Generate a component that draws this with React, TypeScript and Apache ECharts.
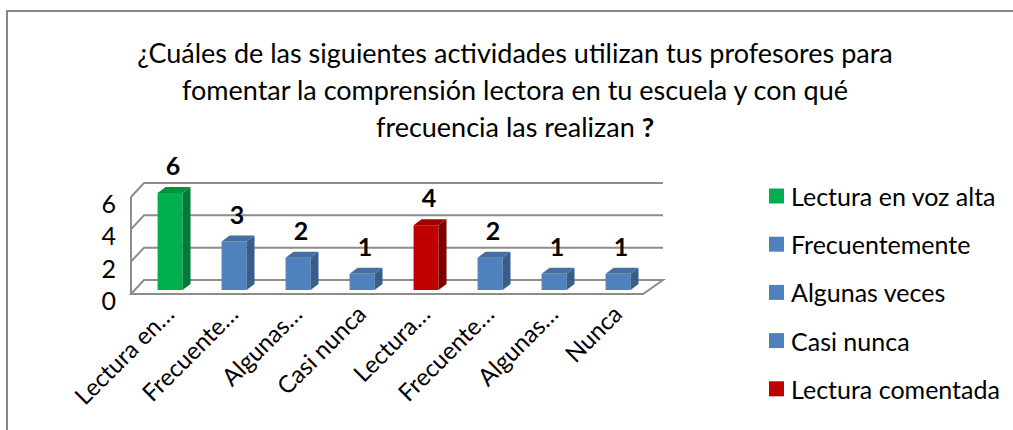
import React, { useEffect, useRef } from "react";
import * as echarts from "echarts";

const categories = [
  "Lectura en voz alta",
  "Frecuentemente",
  "Algunas veces",
  "Casi nunca",
  "Lectura comentada",
  "Frecuentemente",
  "Algunas veces",
  "Nunca",
];
const tickLabels = [
  "Lectura en…",
  "Frecuente…",
  "Algunas…",
  "Casi nunca",
  "Lectura…",
  "Frecuente…",
  "Algunas…",
  "Nunca",
];
const values = [6, 3, 2, 1, 4, 2, 1, 1];
const barGroups = [0, 1, 1, 1, 4, 1, 1, 1];
const legendNames = [
  "Lectura en voz alta",
  "Frecuentemente",
  "Algunas veces",
  "Casi nunca",
  "Lectura comentada",
];
const frontColors = ["#00B050", "#4F81BD", "#4F81BD", "#4F81BD", "#C00000"];
const sideColors = ["#007A37", "#385D8A", "#385D8A", "#385D8A", "#7F0000"];
const topColors = ["#00913F", "#44709F", "#44709F", "#44709F", "#A00000"];
const yTicks = [0, 2, 4, 6];
const titleLines = [
  "¿Cuáles de las siguientes actividades utilizan tus profesores para",
  "fomentar la comprensión lectora en tu escuela y con qué",
  "frecuencia las realizan",
];

const FONT = "Lato, 'Open Sans', sans-serif";
const GRID_COLOR = "#8C8C8C";

export default function App() {
  const ref = useRef<HTMLDivElement>(null);
  useEffect(() => {
    if (!ref.current) return;
    const chart = echarts.init(ref.current, undefined, { renderer: "svg" });

    const wallRender = (params: any, api: any) => {
      const n = categories.length;
      const cw = api.size([1, 0])[0];
      const xL = api.coord([0, 0])[0] - cw / 2;
      const xR = api.coord([n - 1, 0])[0] + cw / 2;
      const dxL = 13;
      const dxR = 20;
      const dy = -14;
      const children: any[] = [];
      const style = { stroke: GRID_COLOR, lineWidth: 2, fill: "none" };
      yTicks.forEach((t) => {
        const y = api.coord([0, t])[1];
        if (t === 0) {
          children.push({
            type: "polygon",
            shape: { points: [[xL, y], [xR, y], [xR + dxR, y + dy], [xL + dxL, y + dy]] },
            style: { stroke: GRID_COLOR, lineWidth: 2, fill: "#ffffff" },
          });
        } else {
          children.push({
            type: "polyline",
            shape: { points: [[xL, y], [xL + dxL, y + dy], [xR + dxR, y + dy]] },
            style,
          });
        }
      });
      const y0 = api.coord([0, 0])[1];
      const yTop = api.coord([0, yTicks[yTicks.length - 1]])[1];
      children.push({
        type: "line",
        shape: { x1: xL, y1: y0, x2: xL, y2: yTop },
        style,
      });
      return { type: "group", children };
    };

    const barRender = (params: any, api: any) => {
      const i = api.value(0);
      const v = api.value(1);
      const g = api.value(2);
      const base = api.coord([i, 0]);
      const top = api.coord([i, v]);
      const cw = api.size([1, 0])[0];
      const fw = cw * 0.39;
      const cx = base[0] + cw * 0.11;
      const x0 = cx - fw / 2;
      const x1 = cx + fw / 2;
      const oy = -4;
      const yb = base[1] + oy;
      const yt = top[1] + oy;
      const dx = 8;
      const dy = -6;
      return {
        type: "group",
        children: [
          {
            type: "rect",
            shape: { x: x0, y: yt, width: x1 - x0, height: yb - yt },
            style: { fill: frontColors[g] },
          },
          {
            type: "polygon",
            shape: { points: [[x1, yb], [x1, yt], [x1 + dx, yt + dy], [x1 + dx, yb + dy]] },
            style: { fill: sideColors[g] },
          },
          {
            type: "polygon",
            shape: { points: [[x0, yt], [x1, yt], [x1 + dx, yt + dy], [x0 + dx, yt + dy]] },
            style: { fill: topColors[g] },
          },
          {
            type: "text",
            style: {
              text: String(v),
              x: cx + 3,
              y: yt + dy - 22,
              fill: "#000",
              font: `bold 25px ${FONT}`,
              align: "center",
              verticalAlign: "middle",
            },
          },
        ],
      };
    };

    const option: any = {
      animation: false,
      backgroundColor: "#ffffff",
      graphic: [
        {
          type: "rect",
          silent: true,
          shape: { x: 7, y: 11, width: 1200, height: 600 },
          style: { fill: "none", stroke: "#878787", lineWidth: 2 },
        },
        {
          type: "text",
          x: 515,
          y: 34,
          style: {
            text: titleLines.join("\n") + " {b|?}",
            fill: "#000",
            fontFamily: FONT,
            fontSize: 27,
            lineHeight: 37,
            align: "center",
            verticalAlign: "top",
            rich: { b: { fontWeight: "bold", fontSize: 27, lineHeight: 37, fontFamily: FONT, fill: "#000" } },
          },
        },
      ],
      legend: {
        data: legendNames,
        orient: "vertical",
        left: 764,
        top: 177,
        icon: "rect",
        itemWidth: 15,
        itemHeight: 15,
        itemGap: 20.2,
        selectedMode: false,
        textStyle: { fontFamily: FONT, fontSize: 25, color: "#000", lineHeight: 28, padding: [0, 0, 0, 2] },
      },
      grid: [
        { left: 131, top: 197, width: 512, height: 97 },
        { left: 137, top: 197, width: 512, height: 97 },
      ],
      xAxis: [
        {
          type: "category",
          gridIndex: 0,
          data: categories,
          axisLine: { show: false },
          axisTick: { show: false },
          axisLabel: { show: false },
          splitLine: { show: false },
        },
        {
          type: "category",
          gridIndex: 1,
          data: tickLabels,
          axisLine: { show: false },
          axisTick: { show: false },
          splitLine: { show: false },
          axisLabel: {
            interval: 0,
            rotate: 45,
            margin: 15,
            color: "#000",
            fontFamily: FONT,
            fontSize: 24,
          },
        },
      ],
      yAxis: [
        {
          type: "value",
          gridIndex: 0,
          min: 0,
          max: 6,
          interval: 2,
          axisLine: { show: false },
          axisTick: { show: false },
          splitLine: { show: false },
          axisLabel: {
            margin: 15,
            color: "#000",
            fontFamily: FONT,
            fontSize: 25,
            verticalAlign: "top",
            lineHeight: 12,
          },
        },
        { type: "value", gridIndex: 1, min: 0, max: 6, show: false },
      ],
      series: [
        {
          type: "custom",
          name: "walls",
          xAxisIndex: 0,
          yAxisIndex: 0,
          data: [[0, 0]],
          renderItem: wallRender,
          silent: true,
          z: 1,
        },
        {
          type: "custom",
          name: "valores",
          xAxisIndex: 0,
          yAxisIndex: 0,
          data: values.map((v, i) => [i, v, barGroups[i]]),
          renderItem: barRender,
          z: 3,
        },
        ...legendNames.map((name, k) => ({
          type: "bar",
          name,
          data: [],
          xAxisIndex: 0,
          yAxisIndex: 0,
          itemStyle: { color: frontColors[k] },
        })),
      ],
    };
    chart.setOption(option);
    return () => chart.dispose();
  }, []);
  return (
    <div
      ref={ref}
      style={{ position: "absolute", left: 0, top: 0, width: 1013, height: 430 }}
    />
  );
}
